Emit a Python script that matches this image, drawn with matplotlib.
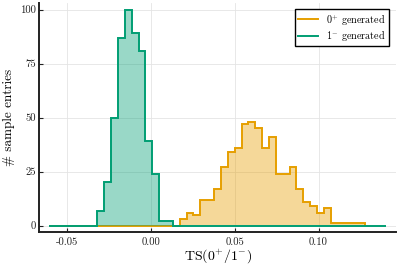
import numpy as np
import matplotlib
matplotlib.use("Agg")
import matplotlib.pyplot as plt
from matplotlib.lines import Line2D

# ---- data ----
bin_left = -0.0605
bin_right = 0.1400
n_bins = 49
green_counts = [0, 0, 0, 0, 0, 0, 0,
                7, 20, 50, 87, 100, 89, 81, 39, 24, 2, 2,
                0, 0, 0, 0, 0, 0, 0, 0, 0, 0, 0, 0, 0, 0, 0, 0, 0, 0, 0, 0,
                0, 0, 0, 0, 0, 0, 0, 0, 0, 0, 0]
orange_counts = [0] * 19 + [3, 6, 5, 12, 12, 17, 27, 34, 36, 47, 48, 45, 36, 41,
                            24, 24, 27, 17, 11, 9, 6, 8, 1, 1, 1, 1, 1]
labels = [r"$0^{+}$ generated", r"$1^{-}$ generated"]
xticks = [-0.05, 0.0, 0.05, 0.10]
xticklabels = ["-0.05", "0.00", "0.05", "0.10"]
yticks = [0, 25, 50, 75, 100]
yticklabels = ["0", "25", "50", "75", "100"]

edges = np.linspace(bin_left, bin_right, n_bins + 1)
green_edges = edges
orange_edges = edges[:len(orange_counts) + 1]

ORANGE = "#E69F00"
GREEN = "#009E73"

plt.rcParams["font.family"] = ["cmr10", "DejaVu Serif"]
plt.rcParams["mathtext.fontset"] = "cm"
plt.rcParams["axes.unicode_minus"] = False

fig = plt.figure(figsize=(3.99, 2.66), dpi=100)
ax = fig.add_axes([0.0985, 0.129, 0.894, 0.861])

lw = 1.4
ax.stairs(orange_counts, orange_edges, fill=True, color=ORANGE, alpha=0.4, lw=0, zorder=2)
ax.stairs(orange_counts, orange_edges, fill=False, color=ORANGE, lw=lw, zorder=3)
ax.stairs(green_counts, green_edges, fill=True, color=GREEN, alpha=0.4, lw=0, zorder=4)
ax.stairs(green_counts, green_edges, fill=False, color=GREEN, lw=lw, zorder=5)

ax.set_xlim(-0.0665, 0.1462)
ax.set_ylim(-2.8, 103.2)
ax.set_xticks(xticks)
ax.set_xticklabels(xticklabels)
ax.set_yticks(yticks)
ax.set_yticklabels(yticklabels)
ax.tick_params(direction="in", length=3, width=0.8, labelsize=7.7, colors="#222222")
ax.tick_params(axis="y", pad=2.2)
ax.tick_params(axis="x", pad=4)
ax.grid(True, color="#e4e4e4", lw=0.6, zorder=0)
ax.set_axisbelow(True)
for s in ["top", "right"]:
    ax.spines[s].set_visible(False)
for s in ["left", "bottom"]:
    ax.spines[s].set_linewidth(1.4)
    ax.spines[s].set_color("#222222")

ax.set_xlabel(r"$\mathrm{TS}(0^{+}/1^{-})$", fontsize=10, labelpad=0)
ax.set_ylabel("# sample entries", fontsize=9.5)
ax.yaxis.set_label_coords(-0.068, 0.5)

handles = [Line2D([], [], color=ORANGE, lw=lw), Line2D([], [], color=GREEN, lw=lw)]
leg = ax.legend(handles, labels, loc="upper right", fontsize=7.3, frameon=True,
                fancybox=False, edgecolor="black", framealpha=1,
                handlelength=2.0, handletextpad=0.8, borderpad=0.3, labelspacing=0.15,
                bbox_to_anchor=(0.995, 0.995))
leg.get_frame().set_linewidth(1.0)

fig.savefig("out.png", dpi=100)
